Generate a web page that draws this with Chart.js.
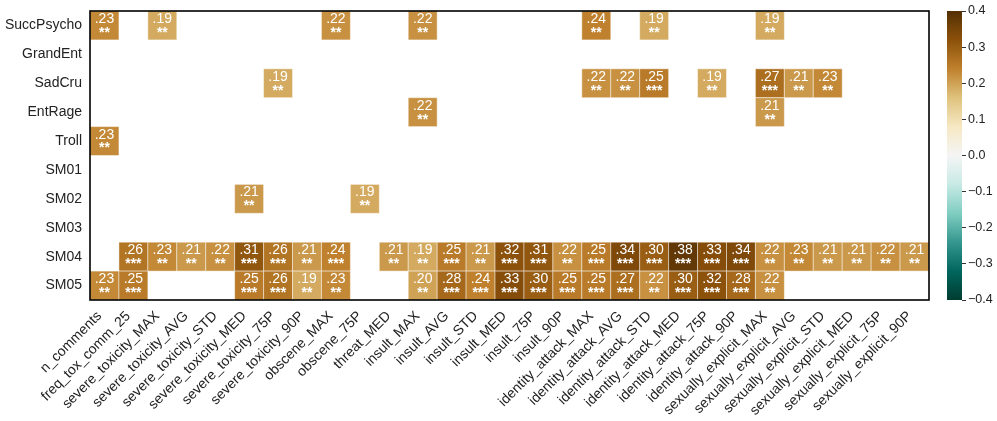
<!DOCTYPE html>
<html>
<head>
<meta charset="utf-8">
<script src="https://cdn.jsdelivr.net/npm/chart.js@4.4.1/dist/chart.umd.min.js"></script>
<style>
    html, body { margin: 0; padding: 0; background: #fff; }
    #wrap { position: relative; width: 997px; height: 421px; }
    #heat { position: absolute; left: 0; top: 0; }
    #cbar { position: absolute; left: 940px; top: 0; }
</style>
</head>
<body>
<div id="wrap">
    <canvas id="heat" width="940" height="421"></canvas>
    <canvas id="cbar" width="57" height="421"></canvas>
</div>
<script>
const _ = null;

const rowLabels = ['SuccPsycho', 'GrandEnt', 'SadCru', 'EntRage', 'Troll', 'SM01', 'SM02', 'SM03', 'SM04', 'SM05'];

const colLabels = [
    'n_comments', 'freq_tox_comm_25',
    'severe_toxicity_MAX', 'severe_toxicity_AVG', 'severe_toxicity_STD', 'severe_toxicity_MED', 'severe_toxicity_75P', 'severe_toxicity_90P',
    'obscene_MAX', 'obscene_75P', 'threat_MED',
    'insult_MAX', 'insult_AVG', 'insult_STD', 'insult_MED', 'insult_75P', 'insult_90P',
    'identity_attack_MAX', 'identity_attack_AVG', 'identity_attack_STD', 'identity_attack_MED', 'identity_attack_75P', 'identity_attack_90P',
    'sexually_explicit_MAX', 'sexually_explicit_AVG', 'sexually_explicit_STD', 'sexually_explicit_MED', 'sexually_explicit_75P', 'sexually_explicit_90P'
];

// correlazioni significative (null = non significativa, cella vuota)
const corrValues = [
    [.23,_,.19,_,_,_,_,_,.22,_,_,.22,_,_,_,_,_,.24,_,.19,_,_,_,.19,_,_,_,_,_],
    [_,_,_,_,_,_,_,_,_,_,_,_,_,_,_,_,_,_,_,_,_,_,_,_,_,_,_,_,_],
    [_,_,_,_,_,_,.19,_,_,_,_,_,_,_,_,_,_,.22,.22,.25,_,.19,_,.27,.21,.23,_,_,_],
    [_,_,_,_,_,_,_,_,_,_,_,.22,_,_,_,_,_,_,_,_,_,_,_,.21,_,_,_,_,_],
    [.23,_,_,_,_,_,_,_,_,_,_,_,_,_,_,_,_,_,_,_,_,_,_,_,_,_,_,_,_],
    [_,_,_,_,_,_,_,_,_,_,_,_,_,_,_,_,_,_,_,_,_,_,_,_,_,_,_,_,_],
    [_,_,_,_,_,.21,_,_,_,.19,_,_,_,_,_,_,_,_,_,_,_,_,_,_,_,_,_,_,_],
    [_,_,_,_,_,_,_,_,_,_,_,_,_,_,_,_,_,_,_,_,_,_,_,_,_,_,_,_,_],
    [_,.26,.23,.21,.22,.31,.26,.21,.24,_,.21,.19,.25,.21,.32,.31,.22,.25,.34,.30,.38,.33,.34,.22,.23,.21,.21,.22,.21],
    [.23,.25,_,_,_,.25,.26,.19,.23,_,_,.20,.28,.24,.33,.30,.25,.25,.27,.22,.30,.32,.28,.22,_,_,_,_,_]
];

// numero di asterischi per cella
const sigStars = [
    [2,_,2,_,_,_,_,_,2,_,_,2,_,_,_,_,_,2,_,2,_,_,_,2,_,_,_,_,_],
    [_,_,_,_,_,_,_,_,_,_,_,_,_,_,_,_,_,_,_,_,_,_,_,_,_,_,_,_,_],
    [_,_,_,_,_,_,2,_,_,_,_,_,_,_,_,_,_,2,2,3,_,2,_,3,2,2,_,_,_],
    [_,_,_,_,_,_,_,_,_,_,_,2,_,_,_,_,_,_,_,_,_,_,_,2,_,_,_,_,_],
    [2,_,_,_,_,_,_,_,_,_,_,_,_,_,_,_,_,_,_,_,_,_,_,_,_,_,_,_,_],
    [_,_,_,_,_,_,_,_,_,_,_,_,_,_,_,_,_,_,_,_,_,_,_,_,_,_,_,_,_],
    [_,_,_,_,_,2,_,_,_,2,_,_,_,_,_,_,_,_,_,_,_,_,_,_,_,_,_,_,_],
    [_,_,_,_,_,_,_,_,_,_,_,_,_,_,_,_,_,_,_,_,_,_,_,_,_,_,_,_,_],
    [_,3,2,2,2,3,3,2,3,_,2,2,3,2,3,3,2,3,3,3,3,3,3,2,2,2,2,2,2],
    [2,3,_,_,_,3,3,2,2,_,_,2,3,3,3,3,3,3,3,2,3,3,3,2,_,_,_,_,_]
];

const cbarTicks = [0.4, 0.3, 0.2, 0.1, 0.0, -0.1, -0.2, -0.3, -0.4];

// BrBG invertita: da +0.4 (marrone) a -0.4 (verde petrolio)
const palette = ['#543005', '#8c510a', '#bf812d', '#dfc27d', '#f6e8c3', '#f5f5f5',
                 '#c7eae5', '#80cdc1', '#35978f', '#01665e', '#003c30'];
const vMin = -0.4, vMax = 0.4;
const FONT = "'Liberation Sans', Arial, sans-serif";

function hexRgb(h) {
    return [1, 3, 5].map(i => parseInt(h.slice(i, i + 2), 16));
}

function coloreValore(v) {
    let t = (vMax - v) / (vMax - vMin);
    t = Math.max(0, Math.min(1, t)) * (palette.length - 1);
    const i = Math.min(Math.floor(t), palette.length - 2);
    const f = t - i;
    const a = hexRgb(palette[i]), b = hexRgb(palette[i + 1]);
    const c = a.map((x, k) => Math.round(x + (b[k] - x) * f));
    return `rgb(${c[0]},${c[1]},${c[2]})`;
}

const celle = [];
corrValues.forEach((riga, r) => {
    riga.forEach((v, c) => {
        if (v !== null) celle.push({ x: c, y: r, v: v, s: sigStars[r][c] });
    });
});

// niente margini extra calcolati da Chart.js per le etichette
function azzeraPadding(s) {
    s.paddingTop = 0; s.paddingBottom = 0; s.paddingLeft = 0; s.paddingRight = 0;
}

const heatPlugin = {
    id: 'heatCells',
    beforeDatasetsDraw(chart) {
        const { ctx, scales: { x, y } } = chart;
        const pts = chart.data.datasets[0].data;
        ctx.save();
        pts.forEach(p => {
            const x0 = x.getPixelForValue(p.x - 0.5), x1 = x.getPixelForValue(p.x + 0.5);
            const y0 = y.getPixelForValue(p.y - 0.5), y1 = y.getPixelForValue(p.y + 0.5);
            ctx.fillStyle = coloreValore(p.v);
            ctx.fillRect(x0, y0, x1 - x0, y1 - y0);
            ctx.strokeStyle = 'rgba(255,255,255,0.45)';
            ctx.lineWidth = 1;
            ctx.strokeRect(x0, y0, x1 - x0, y1 - y0);

            const cx = (x0 + x1) / 2, h = y1 - y0;
            ctx.fillStyle = '#ffffff';
            ctx.textAlign = 'center';
            ctx.textBaseline = 'middle';
            ctx.font = `14px ${FONT}`;
            ctx.fillText(p.v.toFixed(2).replace(/^0/, ''), cx, y0 + h * 0.28);
            ctx.font = `bold 14px ${FONT}`;
            ctx.fillText('*'.repeat(p.s), cx, y0 + h * 0.76);
        });
        ctx.restore();
    },
    afterDraw(chart) {
        const { ctx, chartArea: a } = chart;
        ctx.save();
        ctx.strokeStyle = '#000';
        ctx.lineWidth = 1.6;
        ctx.strokeRect(a.left, a.top, a.right - a.left, a.bottom - a.top);
        ctx.restore();
    }
};

new Chart(document.getElementById('heat'), {
    type: 'scatter',
    data: { datasets: [{ data: celle, pointRadius: 0, pointHoverRadius: 0 }] },
    options: {
        responsive: false,
        animation: false,
        events: [],
        layout: { padding: { top: 11, right: 11, left: 0, bottom: 0 } },
        plugins: { legend: { display: false }, tooltip: { enabled: false } },
        scales: {
            x: {
                type: 'linear',
                min: -0.5,
                max: colLabels.length - 0.5,
                afterBuildTicks: s => { s.ticks = colLabels.map((_, i) => ({ value: i })); },
                afterFit: s => { s.height = 121; azzeraPadding(s); },
                grid: { display: false, drawTicks: false },
                border: { display: false },
                ticks: {
                    autoSkip: false,
                    minRotation: 45,
                    maxRotation: 45,
                    padding: 8,
                    labelOffset: -5,
                    color: '#222',
                    font: { family: FONT, size: 14 },
                    callback: v => colLabels[v]
                }
            },
            y: {
                type: 'linear',
                reverse: true,
                min: -0.5,
                max: rowLabels.length - 0.5,
                afterBuildTicks: s => { s.ticks = rowLabels.map((_, i) => ({ value: i })); },
                afterFit: s => { s.width = 90; azzeraPadding(s); },
                grid: { display: false, drawTicks: false },
                border: { display: false },
                ticks: {
                    autoSkip: false,
                    padding: 8,
                    color: '#222',
                    font: { family: FONT, size: 14 },
                    callback: v => rowLabels[v]
                }
            }
        }
    },
    plugins: [heatPlugin]
});

const cbarPlugin = {
    id: 'cbarFill',
    beforeDatasetsDraw(chart) {
        const { ctx, chartArea: a, scales: { y } } = chart;
        const top = y.getPixelForValue(vMax), bot = y.getPixelForValue(vMin);
        const g = ctx.createLinearGradient(0, top, 0, bot);
        palette.forEach((c, i) => g.addColorStop(i / (palette.length - 1), c));
        ctx.save();
        ctx.fillStyle = g;
        ctx.fillRect(a.left, top, a.right - a.left, bot - top);
        ctx.restore();
    }
};

new Chart(document.getElementById('cbar'), {
    type: 'scatter',
    data: { datasets: [{ data: [], pointRadius: 0 }] },
    options: {
        responsive: false,
        animation: false,
        events: [],
        layout: { padding: { top: 11, left: 7, right: 0, bottom: 121 } },
        plugins: { legend: { display: false }, tooltip: { enabled: false } },
        scales: {
            x: { display: false, min: 0, max: 1 },
            y: {
                position: 'right',
                min: vMin,
                max: vMax,
                afterBuildTicks: s => { s.ticks = cbarTicks.map(v => ({ value: v })); },
                afterFit: s => { s.width = 35; azzeraPadding(s); },
                border: { display: false },
                grid: { drawOnChartArea: false, drawTicks: true, tickLength: 4, color: '#333', tickColor: '#333' },
                ticks: {
                    padding: 2,
                    color: '#222',
                    font: { family: FONT, size: 12.5 },
                    callback: v => (v < 0 ? '\u2212' : '') + Math.abs(v).toFixed(1)
                }
            }
        }
    },
    plugins: [cbarPlugin]
});
</script>
</body>
</html>
